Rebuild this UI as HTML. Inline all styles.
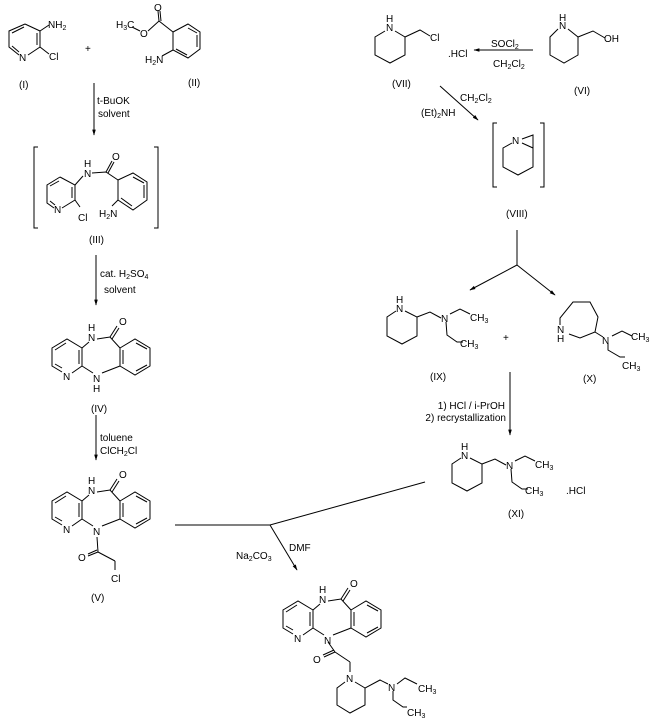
<!DOCTYPE html>
<html><head><style>body{margin:0;background:#fff}svg{display:block}text{font-family:"Liberation Sans",sans-serif;font-size:10px;fill:#000}</style></head><body>
<svg width="657" height="725" viewBox="0 0 657 725" xmlns="http://www.w3.org/2000/svg">
<defs>
<marker id="a" viewBox="0 0 10 10" refX="9" refY="5" markerWidth="6" markerHeight="6" orient="auto"><path d="M0,2 L10,5 L0,8 z" fill="#000"/></marker>
<g id="tri">
<polyline fill="none" stroke="#000" points="97,339 110,337 120,348"/>
<line x1="110" y1="337" x2="117" y2="326" stroke="#000"/><line x1="112" y1="339" x2="119" y2="328" stroke="#000"/>
<text x="119" y="325">O</text>
<text x="88" y="341">N</text><text x="88" y="331">H</text>
<line x1="89" y1="342" x2="82" y2="348" stroke="#000"/>
<polyline fill="none" stroke="#000" points="72,373 82,366 82,348 67,339 52,348 52,366 62,372"/>
<line x1="79" y1="350" x2="79" y2="364" stroke="#000"/><line x1="55" y1="350" x2="66" y2="343" stroke="#000"/><line x1="55" y1="364" x2="62" y2="368" stroke="#000"/>
<text x="63" y="380">N</text>
<line x1="82" y1="366" x2="93" y2="373" stroke="#000"/>
<text x="93" y="382">N</text>
<line x1="102" y1="373" x2="120" y2="366" stroke="#000"/>
<polygon fill="none" stroke="#000" points="120,348 135,339 150,348 150,366 135,375 120,366"/>
<line x1="123" y1="350" x2="123" y2="364" stroke="#000"/><line x1="136" y1="343" x2="147" y2="349" stroke="#000"/><line x1="147" y1="365" x2="136" y2="371" stroke="#000"/>
</g>
</defs>
<g stroke="#000" fill="none">
<!-- I -->
<polyline points="25,24 40,31 40,47 28,55"/><polyline points="19,55 9,47 9,31 25,24"/>
<line x1="12" y1="33" x2="24" y2="27"/><line x1="12" y1="46" x2="19" y2="52"/><line x1="37" y1="33" x2="37" y2="45"/>
<line x1="40" y1="31" x2="49" y2="25"/><line x1="40" y1="47" x2="49" y2="54"/>
<!-- II -->
<polyline points="132,27 140,31"/><polyline points="148,31 159,21 173,32"/>
<line x1="159" y1="21" x2="158" y2="11"/><line x1="161" y1="21" x2="160" y2="11"/>
<polygon points="173,32 188,24 200,32 200,49 188,58 173,50"/>
<line x1="188" y1="28" x2="197" y2="33"/><line x1="197" y1="35" x2="197" y2="47"/><line x1="176" y1="49" x2="187" y2="55"/>
<line x1="173" y1="50" x2="162" y2="56"/>
<line x1="94" y1="83" x2="94" y2="135" marker-end="url(#a)"/>
<!-- III -->
<polyline points="38,147 34,147 34,228 38,228"/><polyline points="154,147 158,147 158,228 154,228"/>
<polyline points="60,177 75,185 75,200 62,208"/><polyline points="54,208 47,203 47,185 60,177"/>
<line x1="50" y1="186" x2="59" y2="181"/><line x1="50" y1="201" x2="55" y2="205"/><line x1="72" y1="187" x2="72" y2="198"/>
<line x1="75" y1="185" x2="83" y2="176"/><line x1="75" y1="200" x2="80" y2="207"/>
<polyline points="92,173 106,172 118,180"/><line x1="106" y1="172" x2="112" y2="161"/><line x1="108" y1="173" x2="114" y2="162"/>
<polygon points="118,180 133,173 147,182 147,200 133,210 118,200"/>
<line x1="133" y1="177" x2="144" y2="183"/><line x1="144" y1="185" x2="144" y2="198"/><line x1="121" y1="198" x2="132" y2="206"/>
<line x1="118" y1="200" x2="112" y2="206"/>
<line x1="96" y1="255" x2="96" y2="305" marker-end="url(#a)"/>
<line x1="96" y1="415" x2="96" y2="460" marker-end="url(#a)"/>
<!-- V subst -->
<line x1="97" y1="537" x2="98" y2="552"/><line x1="98" y1="552" x2="115" y2="561"/><line x1="115" y1="561" x2="115" y2="570"/>
<line x1="98" y1="552" x2="88" y2="556"/><line x1="97" y1="550" x2="88" y2="554"/>
<!-- connector -->
<polyline points="175,525 270,525 425,482"/><line x1="270" y1="525" x2="297" y2="570" marker-end="url(#a)"/>
<!-- VII -->
<polyline points="385,31 375,37 375,55 390,63 405,55 405,37 395,31"/><polyline points="405,37 420,30 430,36"/>
<line x1="533" y1="50" x2="474" y2="50" marker-end="url(#a)"/>
<!-- VI -->
<polyline points="558,29 550,37 550,55 564,63 578,55 578,37 568,29"/><polyline points="578,37 593,31 605,38"/>
<line x1="440" y1="86" x2="478" y2="120" marker-end="url(#a)"/>
<!-- VIII -->
<polyline points="497,123 493,123 493,187 497,187"/><polyline points="540,123 544,123 544,187 540,187"/>
<polyline points="512,143 503,148 503,167 518,175 533,167 533,148 522,143"/>
<polyline points="522,139 533,135 533,148"/>
<line x1="517" y1="230" x2="517" y2="265"/><line x1="517" y1="265" x2="470" y2="290" marker-end="url(#a)"/><line x1="517" y1="265" x2="555" y2="295" marker-end="url(#a)"/>
<!-- IX -->
<g id="ix"><polyline points="396,311 387,317 387,336 402,344 417,336 417,317 405,311"/><polyline points="417,317 430,312 441,318"/>
<polyline points="450,314 460,309 470,314"/><polyline points="446,322 447,335 457,342 463,342"/></g>
<use href="#ix" transform="translate(65,147)"/>
<!-- X -->
<polyline points="560,325 560,318 573,302 590,302 598,317 595,332 580,338 569,334"/>
<line x1="595" y1="332" x2="603" y2="337"/><polyline points="612,336 622,331 632,336"/><polyline points="608,343 608,350 620,357 625,357"/>
<line x1="510" y1="372" x2="510" y2="435" marker-end="url(#a)"/>
<!-- final subst -->
<line x1="328" y1="642" x2="335" y2="652"/><line x1="335" y1="652" x2="350" y2="662"/><line x1="350" y1="662" x2="350" y2="672"/>
<line x1="335" y1="652" x2="324" y2="657"/><line x1="334" y1="650" x2="323" y2="655"/>
<polyline points="345,682 337,688 337,705 350,713 365,705 365,688 380,680 388,684"/><line x1="355" y1="682" x2="365" y2="688"/>
<polyline points="397,684 405,678 417,684"/><polyline points="393,691 393,700 403,707 407,707"/>
</g>
<use href="#tri"/>
<use href="#tri" transform="translate(0,153)"/>
<use href="#tri" transform="translate(231,262)"/>
<text x="48" y="28">NH<tspan font-size="7" dy="2">2</tspan></text>
<text x="19" y="61">N</text><text x="49" y="60">Cl</text>
<text x="85" y="52" font-size="14">+</text>
<text x="19" y="88">(I)</text><text x="188" y="86">(II)</text>
<text x="116" y="28">H<tspan font-size="7" dy="2">3</tspan><tspan dy="-2">C</tspan></text>
<text x="140" y="37">O</text><text x="154" y="11">O</text>
<text x="145" y="63">H<tspan font-size="7" dy="2">2</tspan><tspan dy="-2">N</tspan></text>
<text x="97" y="104">t-BuOK</text><text x="98" y="117">solvent</text>
<text x="54" y="213">N</text><text x="78" y="221">Cl</text>
<text x="84" y="177">N</text><text x="84" y="167">H</text><text x="112" y="160">O</text>
<text x="99" y="217">H<tspan font-size="7" dy="2">2</tspan><tspan dy="-2">N</tspan></text>
<text x="89" y="243">(III)</text>
<text x="100" y="277">cat. H<tspan font-size="7" dy="2">2</tspan><tspan dy="-2">SO</tspan><tspan font-size="7" dy="2">4</tspan></text>
<text x="104" y="293">solvent</text>
<text x="93" y="392">H</text>
<text x="91" y="412">(IV)</text>
<text x="100" y="441">toluene</text><text x="100" y="454">ClCH<tspan font-size="7" dy="2">2</tspan><tspan dy="-2">Cl</tspan></text>
<text x="78" y="561">O</text><text x="111" y="582">Cl</text>
<text x="91" y="601">(V)</text>
<text x="236" y="559">Na<tspan font-size="7" dy="2">2</tspan><tspan dy="-2">CO</tspan><tspan font-size="7" dy="2">3</tspan></text>
<text x="289" y="551">DMF</text>
<text x="386" y="31">N</text><text x="386" y="22">H</text><text x="430" y="41">Cl</text>
<text x="448" y="57">.HCl</text>
<text x="491" y="47">SOCl<tspan font-size="7" dy="2">2</tspan></text>
<text x="493" y="67">CH<tspan font-size="7" dy="2">2</tspan><tspan dy="-2">Cl</tspan><tspan font-size="7" dy="2">2</tspan></text>
<text x="559" y="29">N</text><text x="559" y="21">H</text><text x="604" y="42">OH</text>
<text x="392" y="87">(VII)</text><text x="574" y="94">(VI)</text>
<text x="460" y="101">CH<tspan font-size="7" dy="2">2</tspan><tspan dy="-2">Cl</tspan><tspan font-size="7" dy="2">2</tspan></text>
<text x="421" y="116">(Et)<tspan font-size="7" dy="2">2</tspan><tspan dy="-2">NH</tspan></text>
<text x="512" y="144">N</text>
<text x="506" y="217">(VIII)</text>
<g id="ixt"><text x="396" y="312">N</text><text x="396" y="303">H</text><text x="441" y="322">N</text>
<text x="470" y="321">CH<tspan font-size="7" dy="2">3</tspan></text><text x="460" y="347">CH<tspan font-size="7" dy="2">3</tspan></text></g>
<use href="#ixt" transform="translate(65,147)"/>
<text x="503" y="341" font-size="14">+</text>
<text x="430" y="380">(IX)</text>
<text x="557" y="333">N</text><text x="557" y="342">H</text><text x="602" y="344">N</text>
<text x="631" y="340">CH<tspan font-size="7" dy="2">3</tspan></text><text x="622" y="369">CH<tspan font-size="7" dy="2">3</tspan></text>
<text x="583" y="382">(X)</text>
<text x="505" y="409" text-anchor="end">1) HCl / i-PrOH</text>
<text x="506" y="421" text-anchor="end">2) recrystallization</text>
<text x="566" y="494">.HCl</text>
<text x="508" y="517">(XI)</text>
<text x="313" y="663">O</text><text x="346" y="682">N</text><text x="388" y="691">N</text>
<text x="418" y="692">CH<tspan font-size="7" dy="2">3</tspan></text><text x="407" y="716">CH<tspan font-size="7" dy="2">3</tspan></text>
</svg>
</body></html>
